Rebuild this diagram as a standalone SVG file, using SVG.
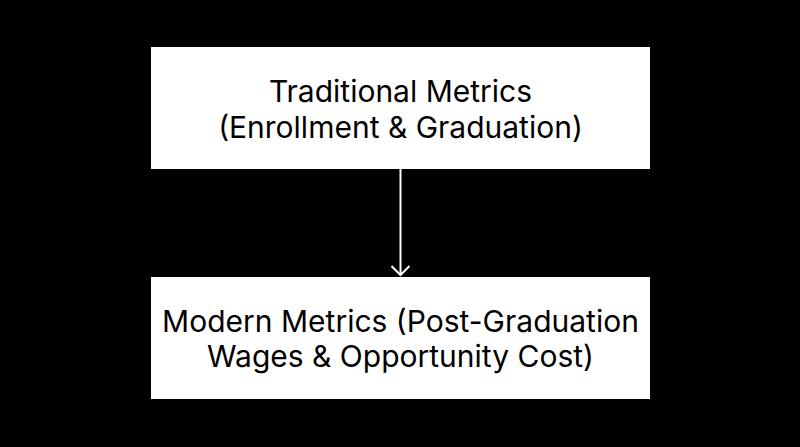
<svg xmlns="http://www.w3.org/2000/svg" width="800" height="447" viewBox="0 0 800 447">
<style>
.box{fill:#fff;stroke:none}
.lbl{font-family:Inter,"Noto Sans","Liberation Sans",sans-serif;font-size:30px;fill:#000;text-anchor:middle}
.edge{stroke:#fff;stroke-width:2;fill:none}
</style>
<defs>
<marker id="arr" markerWidth="20" markerHeight="20" refX="10" refY="10" orient="auto" markerUnits="userSpaceOnUse">
<path d="M1,1 L10,10 L1,19" fill="none" stroke="#fff" stroke-width="2"/>
</marker>
</defs>
<rect width="800" height="447" fill="#000"/>
<g id="connectors">
<line class="edge" x1="400.5" y1="169" x2="400.5" y2="275" marker-end="url(#arr)"/>
</g>
<g id="traditional">
<rect class="box" x="151" y="47" width="499" height="122"/>
<text class="lbl" x="400.5" y="101.5">Traditional Metrics</text>
<text class="lbl" x="400.5" y="137.5">(Enrollment &amp; Graduation)</text>
</g>
<g id="modern">
<rect class="box" x="151" y="277" width="499" height="122"/>
<text class="lbl" x="400.5" y="331.5">Modern Metrics (Post-Graduation</text>
<text class="lbl" x="400.5" y="367">Wages &amp; Opportunity Cost)</text>
</g>
</svg>
